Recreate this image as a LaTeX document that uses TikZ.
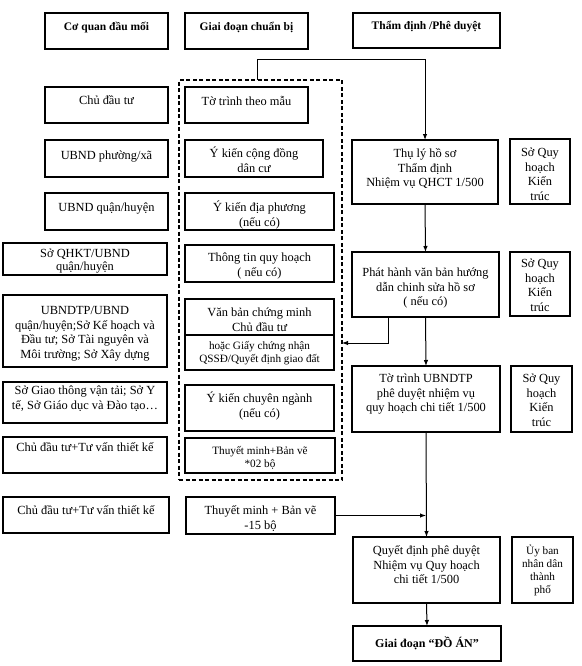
\documentclass[tikz,border=0pt]{standalone}
\usepackage{fontspec}
\setmainfont{Liberation Serif}
\usetikzlibrary{arrows.meta}
\newcommand\nsz{\fontsize{12.4}{14.5}\selectfont}
\newcommand\ssz{\fontsize{11.2}{13}\selectfont}
\newcommand\hsz{\fontsize{11.5}{14}\selectfont\bfseries}
\tikzset{
  boxst/.style={draw, line width=1.1pt, inner sep=0pt, outer sep=0pt, rectangle},
  arr/.style={line width=1pt, -{Latex[length=6pt,width=4.5pt]}},
  dashbox/.style={draw, line width=1.1pt, dash pattern=on 4pt off 2.5pt, inner sep=0pt, outer sep=0pt, rectangle}
}
% #1 font, #2 name, #3 x1, #4 y1, #5 x2, #6 y2, #7 pad, #8 text
\newcommand\bx[8][\nsz]{%
  \pgfmathsetmacro\bw{#5-#3}\pgfmathsetmacro\bh{#6-#4}%
  \pgfmathsetmacro\bcx{(#3+#5)/2}\pgfmathsetmacro\bcy{-(#4+#6)/2}%
  \node[boxst, minimum width=\bw pt, minimum height=\bh pt] (#2) at (\bcx pt,\bcy pt)
    {\parbox[c][\bh pt][t]{\bw pt}{#1\centering\vspace*{#7pt}\rule{0pt}{11.5pt}#8\par}};}
\begin{document}
\begin{tikzpicture}
\useasboundingbox[fill=white] (0,0) rectangle (581pt,-666pt);
% headers
\bx[\hsz]{h1}{45}{13}{168}{49}{6}{Cơ quan đầu mối}
\bx[\hsz]{h2}{185}{13}{308}{49}{6}{Giai đoạn chuẩn bị}
\bx[\hsz]{h3}{353}{13}{500}{48}{5}{Thẩm định /Phê duyệt}
% left column
\bx{l1}{45}{87}{168}{123}{6}{Chủ đầu tư}
\bx{l2}{45}{140}{168}{177}{8}{UBND phường/xã}
\bx{l3}{45}{193}{168}{230}{7}{UBND quận/huyện}
\bx[\fontsize{12.4}{13.5}\selectfont]{l4}{3}{243}{167}{275}{2.5}{Sở QHKT/UBND\\quận/huyện}
\bx{l5}{3}{295}{167}{367}{8}{UBNDTP/UBND\\quận/huyện;Sở Kế hoạch và\\Đầu tư; Sở Tài nguyên và\\Môi trường; Sở Xây dựng}
\bx{l6}{3}{382}{167}{423}{1}{Sở Giao thông vận tải; Sở Y\\tế, Sở Giáo dục và Đào tạo…}
\bx{l7}{3}{437}{167}{473}{3}{Chủ đầu tư+Tư vấn thiết kế}
\bx{l8}{3}{497}{169}{533}{6}{Chủ đầu tư+Tư vấn thiết kế}
% dashed group
\node[dashbox, minimum width=163pt, minimum height=400pt] (dash) at (260.5pt,-280pt) {};
% middle column
\bx{m1}{185}{87}{308}{123}{7}{Tờ trình theo mẫu}
\bx{m2}{185}{140}{323}{177}{6}{Ý kiến cộng đồng\\dân cư}
\bx{m3}{185}{193}{334}{230}{7}{Ý kiến địa phương\\(nếu có)}
\bx{m4}{185}{245}{334}{282}{5}{Thông tin quy hoạch\\( nếu có)}
\bx{m5a}{185}{299}{334}{335}{6}{Văn bản chứng minh\\Chủ đầu tư}
\bx[\ssz]{m5b}{185}{335}{334}{370}{2.5}{hoặc Giấy chứng nhận\\QSSĐ/Quyết định giao đất}
\bx{m6}{185}{385}{334}{431}{6}{Ý kiến chuyên ngành\\(nếu có)}
\bx[\ssz]{m7}{185}{438}{335}{473}{5}{Thuyết minh+Bản vẽ\\\mbox{*}02 bộ}
\bx{m8}{186}{497}{335}{534}{6}{Thuyết minh + Bản vẽ\\-15 bộ}
% right column
\bx{r1}{352}{140}{498}{204}{6}{Thụ lý hồ sơ\\Thẩm định\\Nhiệm vụ QHCT 1/500}
\bx{s1}{510}{139}{570}{204}{6}{Sở Quy\\hoạch\\Kiến\\trúc}
\bx{r2}{352}{252}{499}{317}{13}{Phát hành văn bản hướng\\dẫn chinh sửa hồ sơ\\( nếu có)}
\bx{s2}{510}{252}{570}{316}{4}{Sở Quy\\hoạch\\Kiến\\trúc}
\bx{r3}{352}{366}{500}{432}{5}{Tờ trình UBNDTP\\phê duyệt nhiệm vụ\\quy hoạch chi tiết 1/500}
\bx{s3}{511}{366}{572}{432}{5}{Sở Quy\\hoạch\\Kiến\\trúc}
\bx{r4}{353}{537}{500}{603}{6}{Quyết định phê duyệt\\Nhiệm vụ Quy hoạch\\chi tiết 1/500}
\bx[\ssz]{s4}{512}{537}{573}{603}{6}{Ủy ban\\nhân dân\\thành\\phố}
\bx[\fontsize{12}{14}\selectfont\bfseries]{r5}{353}{626}{501}{661}{10}{Giai đoạn “ĐỒ ÁN”}
% connectors
\coordinate (d1) at (257pt,-80pt);
\draw[arr] (d1) -- ++(0,20pt) -| (r1.north);
\draw[arr] (r1.south) -- (r2.north);
\draw[arr] (r2.south) -- (r3.north);
\draw[arr] (r3.south) -- (r4.north);
\draw[arr] (r4.south) -- (r5.north);
\coordinate (p1) at (388pt,-343pt);
\draw[arr] (r2.south -| p1) |- (dash.east |- p1);
\draw[arr] (m8.east) -- (r3.south |- m8.east);
\end{tikzpicture}
\end{document}
